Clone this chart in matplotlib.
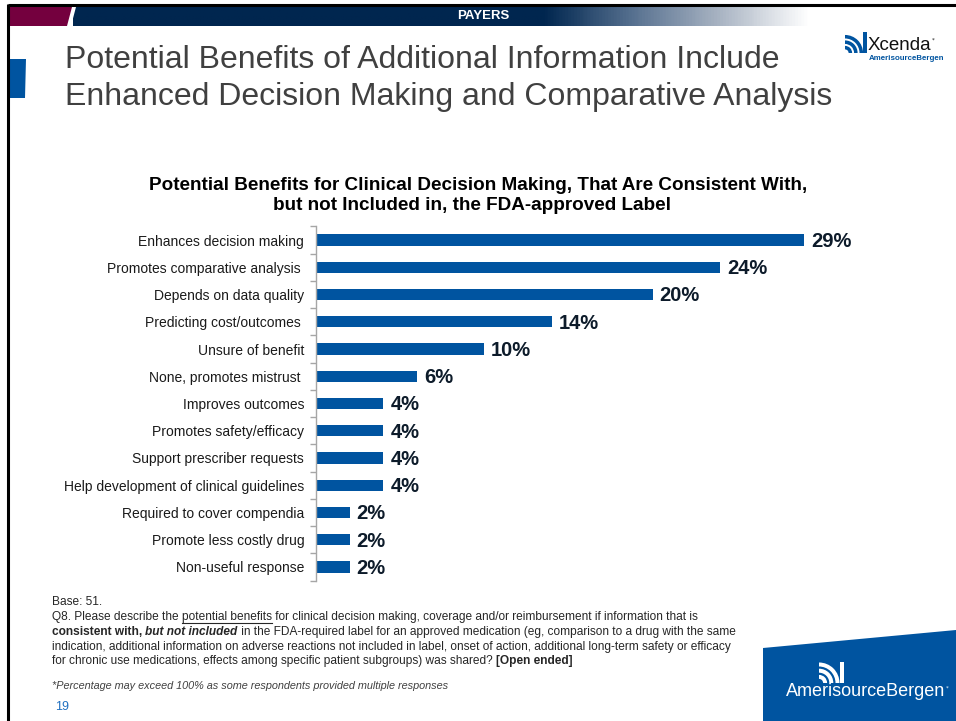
import matplotlib.pyplot as plt
import matplotlib.patches as mpatches
import numpy as np
from matplotlib.colors import LinearSegmentedColormap

# Данные опроса
categories = [
    "Enhances decision making",
    "Promotes comparative analysis ",
    "Depends on data quality",
    "Predicting cost/outcomes ",
    "Unsure of benefit",
    "None, promotes mistrust ",
    "Improves outcomes",
    "Promotes safety/efficacy",
    "Support prescriber requests",
    "Help development of clinical guidelines",
    "Required to cover compendia",
    "Promote less costly drug",
    "Non-useful response",
]
values = [29, 24, 20, 14, 10, 6, 4, 4, 4, 4, 2, 2, 2]

BLUE = "#0054A0"
NAVY = "#00264F"
MAROON = "#74003E"
W, H = 956, 721

fig = plt.figure(figsize=(W / 100, H / 100), dpi=100)

# Слой для оформления слайда в пиксельных координатах
bg = fig.add_axes([0, 0, 1, 1])
bg.set_xlim(0, W)
bg.set_ylim(H, 0)
bg.axis("off")

# Верхняя полоса: бордовый блок, тёмно-синий блок и градиент
bg.add_patch(mpatches.Polygon([(9, 7), (72, 7), (67, 26), (9, 26)], color=MAROON, lw=0))
grad = LinearSegmentedColormap.from_list(
    "g", [(0, NAVY), (0.64, NAVY), (0.76, "#56708F"), (0.88, "#A9B4C3"), (1.0, "#FFFFFF")])
xs = np.linspace(0, 1, 500)
bg.imshow(xs[None, :], cmap=grad, vmin=0, vmax=1, aspect="auto",
          extent=(73, 810, 26, 7), zorder=1)
bg.add_patch(mpatches.Polygon([(73, 7), (76, 7), (71, 26), (68, 26)], color="white", lw=0, zorder=2))
bg.text(483, 16, "PAYERS", color="white", fontsize=9.5, fontweight="bold",
        family="Liberation Sans", ha="center", va="center", zorder=3)

# Чёрная рамка сверху и слева
bg.plot([8, W], [4.5, 4.5], color="black", lw=2.2, solid_capstyle="butt")
bg.plot([8, 8], [4, H], color="black", lw=2.2, solid_capstyle="butt")

# Синий маркер слева от заголовка
bg.add_patch(mpatches.Polygon([(9, 59), (26, 59), (25, 98), (9, 98)], color=BLUE, lw=0))

# Заголовок слайда
bg.text(65, 60, "Potential Benefits of Additional Information Include", color="#404040",
        fontsize=23, family="Liberation Sans", ha="left", va="center")
bg.text(65, 97, "Enhanced Decision Making and Comparative Analysis", color="#404040",
        fontsize=23, family="Liberation Sans", ha="left", va="center")


def wave_icon(x0, y0, w, h, color):
    # Значок логотипа: веер дуг и вертикальная планка справа
    r_max = w * 0.82
    band = w * 0.16
    for k in range(3):
        r = r_max - k * band * 1.55
        bg.add_patch(mpatches.Wedge((x0, y0 + h), r, 270, 360, width=band, color=color, lw=0))
    bg.add_patch(mpatches.Rectangle((x0 + w * 0.84, y0), w * 0.16, h, color=color, lw=0))


# Логотип Xcenda
wave_icon(845, 32, 22, 21, BLUE)
bg.text(868, 46, "Xcenda", color="#111111", fontsize=13.5, family="Liberation Sans",
        ha="left", va="center")
bg.text(932, 40, "*", color="#111111", fontsize=4, ha="left", va="center")
bg.text(869, 58, "AmerisourceBergen", color=BLUE, fontsize=5.7, fontweight="bold",
        family="Liberation Sans", ha="left", va="center")

# Логотип AmerisourceBergen внизу справа
bg.add_patch(mpatches.Polygon([(763, 648), (W, 630), (W, H), (763, H)], color=BLUE, lw=0))
wave_icon(819, 662, 25, 21, "white")
bg.text(866, 691, "AmerisourceBergen", color="white", fontsize=13,
        family="Liberation Sans", ha="center", va="center")
bg.text(946, 688, "*", color="white", fontsize=4, ha="left", va="center")

# Заголовок диаграммы
bg.text(478, 185, "Potential Benefits for Clinical Decision Making, That Are Consistent With,",
        fontsize=13.6, fontweight="bold", family="Liberation Sans", ha="center", va="center",
        color="black")
bg.text(472, 205, "but not Included in, the FDA-approved Label",
        fontsize=13.6, fontweight="bold", family="Liberation Sans", ha="center", va="center",
        color="black")

# Горизонтальная столбчатая диаграмма
px_per_unit = 488 / 29
x_max = 35
top_px, bot_px = 226.4, 580.6
ax = fig.add_axes([316 / W, 1 - bot_px / H, x_max * px_per_unit / W, (bot_px - top_px) / H])
y = np.arange(len(categories))
ax.barh(y, values, height=0.42, color=BLUE, zorder=2)
ax.set_ylim(len(categories) - 0.5, -0.5)
ax.set_xlim(0, x_max)
for yi, v in zip(y, values):
    ax.annotate(f"{v}%", (v, yi), xytext=(5, -1), textcoords="offset points",
                ha="left", va="center", fontsize=14.5, fontweight="bold",
                family="Liberation Sans", color="#0D1B2A")

for s in ["top", "right", "bottom"]:
    ax.spines[s].set_visible(False)
ax.spines["left"].set_color("#A6A6A6")
ax.spines["left"].set_linewidth(1)
ax.set_xticks([])
ax.set_yticks(y)
ax.set_yticklabels(categories, fontsize=10, family="Liberation Sans", color="#1A1A1A")
ax.tick_params(axis="y", which="major", length=0, pad=8.5)
ax.set_yticks(np.arange(-0.5, len(categories)), minor=True)
ax.tick_params(axis="y", which="minor", length=4, color="#A6A6A6", width=1)
ax.patch.set_alpha(0)

# Примечания внизу слайда (смешанное начертание)
fig.canvas.draw()
renderer = fig.canvas.get_renderer()
foot_font = dict(fontsize=8.6, family="Liberation Sans", color="#262626", va="center")


def rich_line(x, yy, runs):
    for text, style in runs:
        kw = dict(foot_font)
        if "b" in style:
            kw["fontweight"] = "bold"
        if "i" in style:
            kw["fontstyle"] = "italic"
        t = bg.text(x, yy, text, **kw)
        bb = t.get_window_extent(renderer)
        if "u" in style:
            bg.plot([x, x + bb.width], [yy + 6, yy + 6], color="#262626", lw=0.8)
        x += bb.width


fx = 52
rich_line(fx, 602, [("Base: 51.", "")])
rich_line(fx, 617, [("Q8. Please describe the ", ""), ("potential benefits", "u"),
                    (" for clinical decision making, coverage and/or reimbursement if information that is", "")])
rich_line(fx, 632, [("consistent with, ", "b"), ("but not included", "bi"),
                    (" in the FDA-required label for an approved medication (eg, comparison to a drug with the same", "")])
rich_line(fx, 647, [("indication, additional information on adverse reactions not included in label, onset of action, "
                     "additional long-term safety or efficacy", "")])
rich_line(fx, 661, [("for chronic use medications, effects among specific patient subgroups) was shared? ", ""),
                    ("[Open ended]", "b")])
bg.text(fx, 686, "*Percentage may exceed 100% as some respondents provided multiple responses",
        fontsize=7.8, fontstyle="italic", family="Liberation Sans", color="#404040", va="center")
bg.text(fx + 3, 707, "19", fontsize=9, family="Liberation Sans", color="#1F6FC0", va="center")

fig.savefig("out.png", dpi=100)
